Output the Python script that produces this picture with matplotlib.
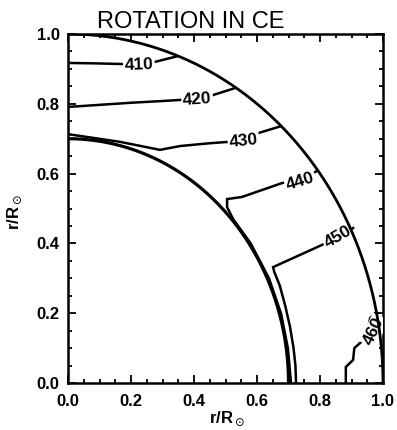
import numpy as np
import matplotlib
matplotlib.use("Agg")
import matplotlib.pyplot as plt
from matplotlib.ticker import MultipleLocator

# ---- data ----
title = "ROTATION IN CE"
outer_radius = 1.0
inner_radius = 0.70

c410_x = [0.0, 0.08, 0.17, 0.225, 0.28, 0.346]
c410_y = [0.917, 0.916, 0.914, 0.912, 0.921, 0.936]

c420_x = [0.0, 0.10, 0.20, 0.30, 0.41, 0.46, 0.53]
c420_y = [0.791, 0.797, 0.803, 0.808, 0.814, 0.825, 0.845]

c430_x = [0.0, 0.165, 0.292, 0.356, 0.45, 0.557, 0.60, 0.673]
c430_y = [0.713, 0.691, 0.668, 0.679, 0.687, 0.694, 0.715, 0.735]

c440_x = [0.79, 0.737, 0.68, 0.60, 0.552, 0.505, 0.505, 0.524, 0.58, 0.638, 0.676, 0.698, 0.708]
c440_y = [0.607, 0.585, 0.573, 0.548, 0.533, 0.527, 0.504, 0.470, 0.40, 0.30, 0.20, 0.10, 0.0]

c450_x = [0.905, 0.857, 0.80, 0.651, 0.655, 0.672, 0.690, 0.705, 0.716, 0.722, 0.724]
c450_y = [0.444, 0.418, 0.393, 0.332, 0.318, 0.28, 0.22, 0.16, 0.10, 0.05, 0.0]

c460_x = [0.882, 0.882, 0.905, 0.909, 0.93, 0.936, 0.95, 0.959, 0.975, 0.982]
c460_y = [0.0, 0.046, 0.066, 0.10, 0.117, 0.13, 0.14, 0.186, 0.20, 0.20]

levels = ["410", "420", "430", "440", "450", "460"]
label_x = [0.225, 0.41, 0.557, 0.737, 0.857, 0.972]
label_y = [0.911, 0.813, 0.693, 0.578, 0.418, 0.150]
label_rot = [2, 4, 6, 17, 30, 65]

xticks = [0.0, 0.2, 0.4, 0.6, 0.8, 1.0]
yticks = [0.0, 0.2, 0.4, 0.6, 0.8, 1.0]

# ---- figure ----
fig = plt.figure(figsize=(3.97, 4.30), dpi=100)
ax = fig.add_axes([68/397, 47/430, 315/397, 349/430])

lw_c = 1.8
lw_b = 2.0
for xs, ys in [(c410_x, c410_y), (c420_x, c420_y), (c430_x, c430_y),
               (c440_x, c440_y), (c450_x, c450_y), (c460_x, c460_y)]:
    ax.plot(xs, ys, color="black", lw=lw_c, zorder=2, solid_joinstyle="miter")

theta = np.linspace(0, np.pi/2, 300)
ax.plot(outer_radius*np.cos(theta), outer_radius*np.sin(theta), color="black", lw=lw_b, zorder=5)
ax.plot(inner_radius*np.cos(theta), inner_radius*np.sin(theta), color="black", lw=lw_b+0.3, zorder=5)

for t, x, y, r in zip(levels, label_x, label_y, label_rot):
    ax.text(x, y, t, rotation=r, ha="center", va="center", fontsize=12.5,
            family="Liberation Sans", fontweight="bold", rotation_mode="anchor",
            bbox=dict(boxstyle="square,pad=0.08", fc="white", ec="none"), zorder=4,
            clip_on=True)

ax.set_xlim(0, 1)
ax.set_ylim(0, 1)
ax.set_xticks(xticks)
ax.set_yticks(yticks)
ax.set_xticklabels([f"{v:.1f}" for v in xticks])
ax.set_yticklabels([f"{v:.1f}" for v in yticks])
ax.xaxis.set_minor_locator(MultipleLocator(0.05))
ax.yaxis.set_minor_locator(MultipleLocator(0.05))
ax.tick_params(which="both", direction="in", top=True, right=True, width=1.3)
ax.tick_params(which="major", length=5.5)
ax.tick_params(which="minor", length=3)
ax.tick_params(axis="x", which="major", pad=8)
ax.tick_params(axis="y", which="major", pad=6)
for lab in ax.get_xticklabels() + ax.get_yticklabels():
    lab.set_family("Liberation Sans")
    lab.set_fontweight("bold")
    lab.set_fontsize(12)
for s in ax.spines.values():
    s.set_linewidth(1.8)

fig.text(191/397, 1-22/430, title, ha="center", va="center", fontsize=17,
         family="Liberation Sans")
fig.text(227/397, 1-419/430, r"r/R$_\odot$", ha="center", va="center", fontsize=12,
         family="Liberation Sans", fontweight="bold")
fig.text(15/397, 1-212/430, r"r/R$_\odot$", ha="center", va="center", fontsize=12,
         family="Liberation Sans", fontweight="bold", rotation=90)

fig.savefig("out.png", dpi=100)
